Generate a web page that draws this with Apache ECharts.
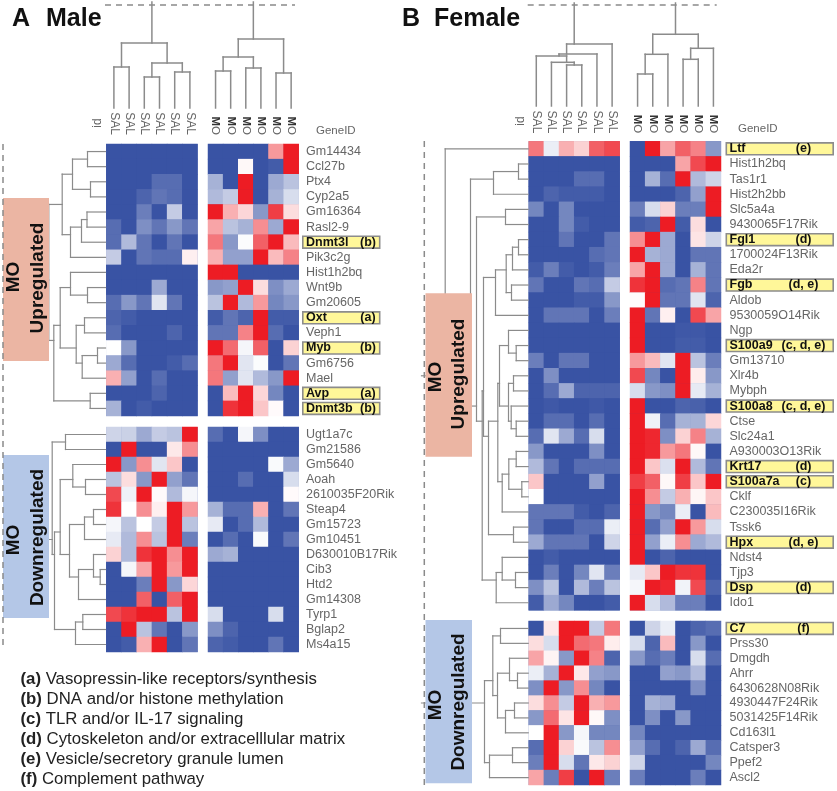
<!DOCTYPE html>
<html><head><meta charset="utf-8">
<style>html,body{margin:0;padding:0;background:#fff}#c{width:837px;height:791px}</style>
<script src="https://cdn.jsdelivr.net/npm/echarts@6/dist/echarts.min.js"></script>
</head><body><div id="c"></div>
<script>
// ---------- DATA ----------
const salLabels = ['SAL','SAL','SAL','SAL','SAL','SAL'];
const moLabels = ['MO','MO','MO','MO','MO','MO'];
const maleUpGenes = ['Gm14434','Ccl27b','Ptx4','Cyp2a5','Gm16364','Rasl2-9','Dnmt3l','Pik3c2g','Hist1h2bq','Wnt9b','Gm20605','Oxt','Veph1','Myb','Gm6756','Mael','Avp','Dnmt3b'];
const maleDownGenes = ['Ugt1a7c','Gm21586','Gm5640','Aoah','2610035F20Rik','Steap4','Gm15723','Gm10451','D630010B17Rik','Cib3','Htd2','Gm14308','Tyrp1','Bglap2','Ms4a15'];
const femaleUpGenes = ['Ltf','Hist1h2bq','Tas1r1','Hist2h2bb','Slc5a4a','9430065F17Rik','Fgl1','1700024F13Rik','Eda2r','Fgb','Aldob','9530059O14Rik','Ngp','S100a9','Gm13710','Xlr4b','Mybph','S100a8','Ctse','Slc24a1','A930003O13Rik','Krt17','S100a7a','Cklf','C230035I16Rik','Tssk6','Hpx','Ndst4','Tjp3','Dsp','Ido1'];
const femaleDownGenes = ['C7','Prss30','Dmgdh','Ahrr','6430628N08Rik','4930447F24Rik','5031425F14Rik','Cd163l1','Catsper3','Ppef2','Ascl2'];
const maleNotes = {Dnmt3l:'(b)',Oxt:'(a)',Myb:'(b)',Avp:'(a)',Dnmt3b:'(b)'};
const femaleNotes = {Ltf:'(e)',Fgl1:'(d)',Fgb:'(d, e)',S100a9:'(c, d, e)',S100a8:'(c, d, e)',Krt17:'(d)',S100a7a:'(c)',Hpx:'(d, e)',Dsp:'(d)',C7:'(f)'};
const noteLines = [['(a)','Vasopressin-like receptors/synthesis'],['(b)','DNA and/or histone methylation'],['(c)','TLR and/or IL-17 signaling'],['(d)','Cytoskeleton and/or extracelllular matrix'],['(e)','Vesicle/secretory granule lumen'],['(f)','Complement pathway']];

const maleUpSAL = [
[-1,-1,-1,-1,-1,-1],[-1,-1,-1,-1,-1,-1],[-1,-1,-1,-.85,-.85,-1],[-1,-1,-.9,-.8,-.85,-1],[-1,-1,-.75,-1,-.3,-1],
[-.85,-1,-.65,-.8,-.6,-.8],[-.85,-.4,-.8,-1,-.8,-1],[-.3,-1,-.8,-.85,-.85,.07],[-1,-1,-1,-1,-1,-1],[-1,-1,-1,-.5,-1,-1],
[-.85,-.6,-.8,-.15,-.8,-1],[-.9,-.95,-1,-1,-1,-1],[-.85,-1,-1,-1,-.9,-1],[0,-.6,-1,-1,-1,-1],[-.5,-.85,-1,-1,-.95,-.85],
[.35,-.55,-1,-.85,-1,-1],[-1,-1,-1,-.9,-1,-1],[-.45,-1,-.95,-1,-1,-1]];
const maleUpMO = [
[-1,-1,-1,-1,.45,1],[-1,-1,.03,-1,-.95,1],[-.45,-1,1,-1,-.5,-.35],[-.4,-.3,1,-1,-.45,-.2],[1,.35,.18,-.6,.85,.15],
[.4,-.35,-.45,.5,-.5,1],[.6,-.6,-.02,.7,1,.3],[.35,-.55,-.55,1,.3,.55],[1,1,-1,-1,-1,-1],[-.6,-.55,1,.15,-.65,-.5],
[-.35,1,-.4,.45,-.7,-.6],[-.95,-.8,-.9,1,-.95,-.95],[-.8,-.8,.55,1,-.85,-1],[1,.65,-.05,.7,-1,.2],[.6,1,-.15,-.02,-1,-.8],
[.6,-.55,-.15,-.4,-.6,1],[-1,.3,1,.18,-.7,-1],[-1,.9,1,.25,.02,-1]];
const maleDownSAL = [
[-.25,-.27,-.5,-.3,-.35,1],[-1,1,-1,-1,.1,.5],[1,-.6,.5,-.15,.25,-1],[-.35,.15,-.6,1,-.55,-.8],[.8,-.08,1,.02,-.4,-.05],
[.9,0,.5,.07,1,.45],[-.05,-.35,0,-.3,1,-.35],[-.12,-.4,.5,-.35,1,-.75],[.2,-.4,.9,1,.5,1],[-1,-.05,.4,1,.45,1],
[-1,-1,-.75,1,-.6,.18],[-1,-1,.7,-1,.7,1],[.8,.9,1,1,-.35,1],[-1,1,-.35,-.8,-1,-.6],[-1,-.95,.35,1,-1,-.8]];
const maleDownMO = [
[-.85,-1,-.05,-.65,-1,-1],[-1,-1,-1,-1,-1,-1],[-1,-1,-1,-1,-.03,-.5],[-1,-1,-.85,-1,-1,-.2],[-1,-1,-1,-1,-1,.02],
[-.45,-.85,-.85,.35,-1,-.8],[-.12,-1,-.85,-.4,-1,-1],[-1,-.85,-1,-.03,-1,-.8],[-.5,-.45,-1,-1,-1,-1],[-1,-1,-1,-1,-1,-1],
[-1,-1,-1,-1,-1,-1],[-1,-1,-1,-1,-1,-1],[-.2,-1,-1,-1,-.2,-1],[-.65,-.9,-1,-1,-1,-1],[-.9,-.95,-1,-1,-.8,-1]];
const femaleUpSAL = [
[.6,-.1,.35,.2,.7,.8],[-1,-1,-1,-1,-1,-1],[-1,-1,-1,-.85,-.85,-1],[-1,-.9,-.95,-.95,-.95,-1],[-.7,-1,-.7,-1,-1,-1],
[-1,-1,-.7,-.95,-1,-1],[-1,-1,-.8,-1,-1,-.8],[-1,-1,-1,-1,-.85,-.8],[-.95,-.75,-.95,-1,-.95,-.75],[-.8,-1,-1,-.8,-.85,-.3],
[-1,-1,-1,-.95,-.95,-.6],[-1,-.8,-.8,-.8,-1,-.75],[-1,-1,-1,-1,-1,-1],[-1,-1,-1,-1,-1,-1],[-.75,-1,-.8,-.8,-1,-1],
[-1,-.65,-1,-1,-1,-1],[-1,-.85,-.5,-.9,-.9,-.9],[-1,-.97,-1,-1,-.97,-1],[-1,-.85,-.85,-1,-.85,-1],[-.85,-.15,-.5,-.85,-.2,-1],
[-.6,-1,-1,-1,-.65,-1],[-.4,-.8,-1,-.85,-.85,-.85],[.25,-1,-1,-1,-.55,-1],[0,-1,-1,-1,-1,-1],[-.8,-.8,-.8,-.95,-1,-.9],
[-.8,-1,-1,-.85,-.85,-.1],[-.5,-.8,-.8,-.8,-1,-.25],[-1,-.95,-1,-1,-1,-1],[-1,-.75,-1,-.7,-.15,-.75],[-.65,-.35,-1,-.4,-.75,-.35],
[-.95,-.5,-.7,-1,-1,-.95]];
const femaleUpMO = [
[-1,1,.4,.7,.55,-.6],[-1,-1,-1,.4,.8,1],[-1,-.45,-.85,1,-.4,-.25],[-1,-1,-1,-.9,-.55,1],[-.75,-.2,.2,-.75,-.75,1],
[-.95,-.9,1,-.95,.15,-1],[.5,1,-.5,-1,.12,-.25],[1,-.45,-.5,-1,-.8,-.8],[.4,1,-.5,-1,-.45,-.8],[.9,1,-.85,-.8,.55,-.8],
[.02,1,-.8,-.8,-.15,-.9],[1,-.8,.07,-1,.8,.4],[1,-1,-1,-.97,-.97,-1],[1,-1,-1,-.95,-.95,-1],[.45,.3,-.15,1,-.35,-.75],
[.8,-.7,-1,1,.08,-.6],[-.2,-.6,-.65,1,-.12,-.45],[1,-1,-1,-.9,-.92,-1],[1,-.08,-.85,-.45,-.45,.18],[1,.95,-.65,.2,.55,-.45],
[1,.95,.45,.6,.03,-1],[1,.25,-.18,1,-.4,-.8],[.85,.7,.03,.85,.25,1],[1,.5,-.3,.35,.04,.25],[1,-.6,-.7,-.1,-1,.3],
[1,-.85,-.55,1,.45,-.2],[1,-.55,-.1,.5,-.5,-.4],[1,-1,-.9,-1,-1,-1],[-.12,.25,1,.9,.9,-1],[-.05,1,.95,-.07,.8,-.9],
[1,-.2,-.4,-.75,-.75,-1]];
const femaleDownSAL = [
[-1,.1,1,1,-.3,.6],[.15,-.2,1,.65,.6,.08],[.4,.05,-.6,1,.55,-.9],[-.1,-.45,1,.1,-.55,-.6],[-.65,1,-.6,.5,-.7,-1],
[.15,.5,-.3,1,.35,.45],[-.6,.65,.12,1,.03,-.65],[0,1,-.6,-.05,-.7,-.7],[-.85,1,.2,-.03,-.35,.5],[-.75,1,-.2,-.8,.1,.2],
[.4,-.75,.85,-1,1,-.75]];
const femaleDownMO = [
[-1,-.25,-.1,-1,-.9,-.85],[-.2,-.9,.3,-1,-.6,-1],[-.6,-.85,-.75,-1,-.2,-.85],[-1,-1,-.55,-.6,-.4,-1],[-1,-1,-1,-1,-.65,-1],
[-1,-.45,-.5,-1,-1,-1],[-1,-.65,-1,-.6,-1,-1],[-.7,-1,-1,-1,-1,-1],[-.55,-.85,-1,-.9,-.5,-.85],[-.25,-1,-1,-1,-1,-.7],
[-.75,-1,-1,-1,-.75,-1]];

// dendrograms: nested [upper, lower, distance]; a number is a leaf index
const maleSALTree = [[0,1,41],[[2,3,31],[4,5,36],45],65];
const maleMOTree = [[[0,1,37],[2,3,40],51],[4,5,35],69];
const femaleSALTree = [[[0,[1,[2,3,41],43.7],50],4,52],5,62];
const femaleMOTree = [[[0,1,32],2,51.7],[[3,4,46.7],5,57.7],71.7];

const mU1 = [[[0,1,18],[2,3,15],33],[[[4,5,18.5],6,24],7,35],43.3];
const mU2 = [[8,[9,10,18],35],[[11,12,21],[[13,14,8],15,23.3],29.3],45.3];
const maleUpTree = [mU1,[mU2,[16,17,15.3],51.7],56.7];

const mD1 = [[2,[3,4,20],32.7],[[[5,6,12],7,21],[[8,[9,10,5.3],12],11,27],36],45.3];
const maleDownTree = [[0,1,40],[mD1,[[12,13,22.7],14,30],51],53.3];

const fA = [[1,2,9.7],3,34.7];
const fB = [[[[6,7,9.7],8,15.7],[9,10,16.7],22],11,32.7];
const fC = [[[12,[13,14,12],19.7],[[15,16,14.7],[17,[18,19,12],17],19.7],28.7],[[[20,21,12],[22,23,6.4],19.4],24,26],30.4];
const fP = [fC,[25,26,14.7],39.7];
const fQ = [fB,fP,44.7];
const fS = [[27,[28,29,12.7],26],30,32];
const fR = [fQ,fS,46];
const fT = [[4,5,22.7],fR,51.7];
const fU = [fA,fT,57.7];
const femaleUpRowTree = [0,fU,83];
const femaleDownTree = [[[0,1,27.7],[[2,[3,4,10.7],18.7],[[5,6,13.7],7,22.7],30.7],35.4],[[8,9,15.7],10,38.7],43.7];

// ---------- LAYOUT ----------
const DARK='#8b8b8b', BLUE='#3953a4', RED='#ed1c24';
const grids=[],xAxes=[],yAxes=[],series=[],heatIdx=[];
function addGrid(left,top,right,bottom,x,y,bg){
  const gr={left,top,width:right-left,height:bottom-top,outerBoundsMode:'none',containLabel:false};
  if(bg){gr.show=true;gr.backgroundColor=bg;gr.borderWidth=0;}
  grids.push(gr);
  const i=grids.length-1;
  xAxes.push(Object.assign({gridIndex:i,axisLine:{show:false},axisTick:{show:false},splitLine:{show:false},axisLabel:{show:false}},x));
  yAxes.push(Object.assign({gridIndex:i,axisLine:{show:false},axisTick:{show:false},splitLine:{show:false},axisLabel:{show:false}},y));
  return i;
}
function heatBlock(box,matrix,labels,genes,labelMargin,bold){
  const x={type:'category',data:labels,position:'top'};
  if(labelMargin!=null){
    x.axisLabel=bold?{show:true,interval:0,rotate:90,margin:labelMargin,
       formatter:v=>'{m|M}{o|O}',rich:{m:{fontFamily:'Liberation Sans',fontWeight:'bold',fontSize:11.5,color:'#333'},o:{fontFamily:'Liberation Sans',fontSize:11.5,color:'#666'}}}
     :{show:true,interval:0,rotate:90,margin:labelMargin,fontFamily:'Liberation Sans',fontSize:12,color:'#666'};
  }
  const g=addGrid(box[0],box[1],box[2],box[3],x,{type:'category',data:genes,inverse:true},BLUE);
  const data=[];
  matrix.forEach((r,ri)=>r.forEach((v,ci)=>data.push([ci,ri,v])));
  heatIdx.push(series.length);
  series.push({type:'heatmap',xAxisIndex:g,yAxisIndex:g,data,itemStyle:{borderWidth:0},emphasis:{disabled:true},silent:true,progressive:0});
}
// a merge sits at the mean position of the leaves below it
function segs(tree,vertical,rootStem){
  const out=[];
  function walk(n){
    if(typeof n==='number') return {p:n+.5,h:0,k:1};
    const a=walk(n[0]),b=walk(n[1]),h=n[2];
    out.push([h,a.p,h,b.p],[a.h,a.p,h,a.p],[b.h,b.p,h,b.p]);
    const k=a.k+b.k;
    return {p:(a.p*a.k+b.p*b.k)/k,h,k};
  }
  const r=walk(tree);
  out.push([r.h,r.p,rootStem,r.p]);
  return vertical? out.map(s=>[s[1],s[0],s[3],s[2]]):out;
}
function lineItem(lw){
  return (params,api)=>{
    const a=api.coord([api.value(0),api.value(1)]),b=api.coord([api.value(2),api.value(3)]);
    return {type:'line',shape:{x1:a[0],y1:a[1],x2:b[0],y2:b[1]},style:{stroke:DARK,lineWidth:lw,lineCap:'square'},silent:true};
  };
}
function colDendro(tree,left,right,top,bottom){
  const H=bottom-top;
  const g=addGrid(left,top,right,bottom,{type:'value',min:0,max:6},{type:'value',min:0,max:H});
  series.push({type:'custom',coordinateSystem:'cartesian2d',xAxisIndex:g,yAxisIndex:g,clip:false,silent:true,
    data:segs(tree,true,H),renderItem:lineItem(1.5),encode:{x:[0,2],y:[1,3]}});
}
function rowDendro(tree,n,left,right,top,bottom,stem){
  const W=right-left;
  const g=addGrid(left,top,right,bottom,{type:'value',min:0,max:W,inverse:true},{type:'value',min:0,max:n,inverse:true});
  series.push({type:'custom',coordinateSystem:'cartesian2d',xAxisIndex:g,yAxisIndex:g,clip:false,silent:true,
    data:segs(tree,false,stem),renderItem:lineItem(1.2),encode:{x:[0,2],y:[1,3]}});
}
function labelBlock(genes,notes,left,right,top,bottom,noteX){
  const g=addGrid(left,top,right,bottom,{type:'value',min:0,max:1},{type:'category',data:genes,inverse:true,z:6,
    axisLabel:{show:true,inside:true,interval:0,margin:4,fontFamily:'Liberation Sans',
      formatter:v=>notes[v]?'{h|'+v+'}':'{n|'+v+'}',
      rich:{h:{fontFamily:'Liberation Sans',fontWeight:'bold',fontSize:12.5,color:'#111'},n:{fontFamily:'Liberation Sans',fontSize:12.5,color:'#666'}}}});
  series.push({type:'bar',xAxisIndex:g,yAxisIndex:g,barWidth:13.5,silent:true,z:2,
    itemStyle:{color:'#fff799',borderColor:'#8c8c8c',borderWidth:1.6},
    label:{show:true,position:[noteX,'50%'],align:'center',verticalAlign:'middle',fontFamily:'Liberation Sans',fontWeight:'bold',fontSize:12.5,color:'#111',
      formatter:p=>notes[p.name]||''},
    data:genes.map(v=>notes[v]?1:null)});
}

// Panel A
const aS=[106.3,197.5],aM=[208,298.7],aU=[144,416],aD=[427,652];
colDendro(maleSALTree,aS[0],aS[1],2,108);
colDendro(maleMOTree,aM[0],aM[1],2,108);
heatBlock([aS[0],aU[0],aS[1],aU[1]],maleUpSAL,salLabels,maleUpGenes,9,false);
heatBlock([aM[0],aU[0],aM[1],aU[1]],maleUpMO,moLabels,maleUpGenes,9,true);
heatBlock([aS[0],aD[0],aS[1],aD[1]],maleDownSAL,salLabels,maleDownGenes);
heatBlock([aM[0],aD[0],aM[1],aD[1]],maleDownMO,moLabels,maleDownGenes);
rowDendro(maleUpTree,18,0,105.5,aU[0],aU[1],100);
rowDendro(maleDownTree,15,0,105.5,aD[0],aD[1],100);
labelBlock(maleUpGenes,maleNotes,302,380.5,aU[0],aU[1],66);
labelBlock(maleDownGenes,{},302,380.5,aD[0],aD[1],66);

// Panel B
const bS=[528.7,619.7],bM=[630,721],bU=[141.3,610.3],bD=[621,785];
colDendro(femaleSALTree,bS[0],bS[1],3,106);
colDendro(femaleMOTree,bM[0],bM[1],3,106);
heatBlock([bS[0],bU[0],bS[1],bU[1]],femaleUpSAL,salLabels,femaleUpGenes,8,false);
heatBlock([bM[0],bU[0],bM[1],bU[1]],femaleUpMO,moLabels,femaleUpGenes,8,true);
heatBlock([bS[0],bD[0],bS[1],bD[1]],femaleDownSAL,salLabels,femaleDownGenes);
heatBlock([bM[0],bD[0],bM[1],bD[1]],femaleDownMO,moLabels,femaleDownGenes);
rowDendro(femaleUpRowTree,31,420,528.2,bU[0],bU[1],106.7);
rowDendro(femaleDownTree,11,420,528.2,bD[0],bD[1],106.7);
labelBlock(femaleUpGenes,femaleNotes,725.5,834,bU[0],bU[1],78);
labelBlock(femaleDownGenes,femaleNotes,725.5,834,bD[0],bD[1],78);

// ---------- ANNOTATIONS ----------
const Z=50, FF='Liberation Sans';
const T=(text,x,y,size)=>({type:'text',z:Z+2,x,y,style:{text,fontFamily:FF,fontSize:size,fill:'#111',align:'left',verticalAlign:'middle',fontWeight:'normal'}});
const bold=(t,x,y,s)=>{const e=T(t,x,y,s);e.style.fontWeight='bold';return e;};
const rot=(t,x,y,s,fill,w)=>{const e=T(t,x,y,s);e.rotation=Math.PI/2;e.style.align='center';e.style.fill=fill||'#111';e.style.fontWeight=w||'bold';return e;};
const rect=(x0,y0,x1,y1,fill)=>({type:'rect',z:Z,shape:{x:x0,y:y0,width:x1-x0,height:y1-y0},style:{fill}});
const dash=(x1,y1,x2,y2)=>({type:'line',z:Z+1,shape:{x1,y1,x2,y2},style:{stroke:'#8a8a8a',lineWidth:1.5,lineDash:[6,5]}});
const pink='#ebb5a3', sky='#b4c7e7';
const elements=[
  bold('A',12,19,25),bold('Male',46,19,25),bold('B',402,19,25),bold('Female',434,19,25),
  rect(3,198,49,361,pink),rect(3,455,49,618,sky),
  rect(425.5,293.3,472,456.7,pink),rect(425.5,620,472,783.3,sky),
  rot('MO',13.5,277,19),rot('Upregulated',38,278,19),
  rot('MO',13.5,540,19),rot('Downregulated',38,537.5,19),
  rot('MO',436,377,19),rot('Upregulated',459,374,19),
  rot('MO',436,705,19),rot('Downregulated',459,702,19),
  dash(105,5,295,5),dash(527.7,5,716.7,5),dash(3,144,3,650),dash(424.3,141,424.3,785),
  rot('id',98,123,12,'#666','normal'),rot('id',520.5,121,12,'#666','normal'),
];
const gid=(x,y)=>{const e=T('GeneID',x,y,11.5);e.style.fill='#666';return e;};
elements.push(gid(316,131),gid(738,129));
noteLines.forEach((n,i)=>{
  elements.push({type:'text',z:Z+2,x:20.5,y:679+i*20.1,style:{text:'{b|'+n[0]+'} '+n[1],fontFamily:FF,fontSize:16.8,fill:'#222',verticalAlign:'middle',
    rich:{b:{fontFamily:FF,fontWeight:'bold',fontSize:16.8,fill:'#222'}}}});
});

const chart=echarts.init(document.getElementById('c'),null,{renderer:'canvas',width:837,height:791});
chart.setOption({
  animation:false,backgroundColor:'#ffffff',tooltip:{show:false},
  grid:grids,xAxis:xAxes,yAxis:yAxes,series,
  visualMap:{show:false,type:'continuous',min:-1,max:1,dimension:2,seriesIndex:heatIdx,inRange:{color:[BLUE,'#ffffff',RED]},calculable:false},
  graphic:{elements}
});
</script>
</body></html>
